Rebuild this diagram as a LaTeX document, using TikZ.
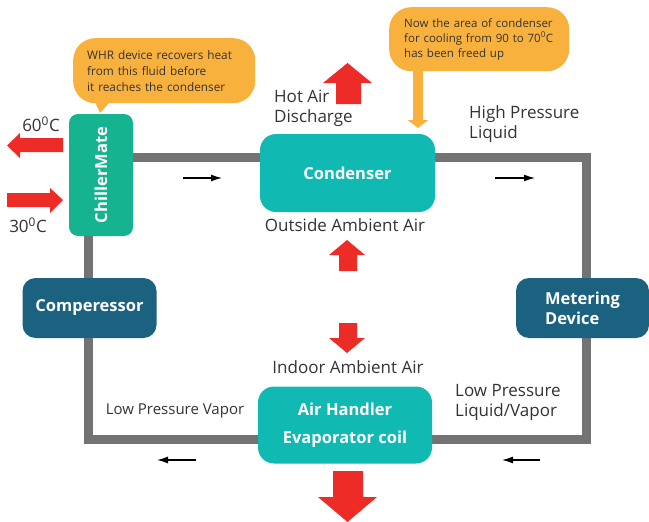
\documentclass[tikz,border=0pt]{standalone}
\usepackage{fontspec}
\setmainfont{Open Sans}
\usetikzlibrary{arrows.meta,positioning}
\definecolor{pipegray}{HTML}{737373}
\definecolor{chillgreen}{HTML}{15B38F}
\definecolor{condteal}{HTML}{10B9B2}
\definecolor{darkblue}{HTML}{1B6180}
\definecolor{bubbleorange}{HTML}{F9B13E}
\definecolor{heatred}{HTML}{EE2C27}
\definecolor{labelgray}{HTML}{333333}
\tikzset{
unitbox/.style={
  rounded corners=13pt,
  text=white,
  font=\bfseries\fontsize{16.5}{20}\selectfont,
  align=center,
  inner sep=0pt
  },
bubble/.style={
  fill=bubbleorange,
  rounded corners=22pt,
  text=labelgray,
  align=left,
  anchor=north west,
  inner ysep=0pt
  },
lbl/.style={font=\fontsize{17}{20}\selectfont, text=labelgray, align=left, inner sep=0pt},
flow/.style={-{Latex[length=11pt,width=7pt]}, line width=1.3pt},
heat/.style={fill=heatred},
pipe/.style={draw=pipegray, line width=9pt}
}

\begin{document}
\begin{tikzpicture}[x=1pt, y=-1pt]
  \useasboundingbox (0,0) rectangle (649,522);

  % refrigerant loop
  \coordinate (nw) at (88.5,157.5);
  \coordinate (ne) at (586,157.5);
  \coordinate (se) at (586,439);
  \coordinate (sw) at (88.5,439);
  \draw[pipe] (nw) -- (ne) -- (se) -- (sw) -- cycle;

  % units
  \node[unitbox, fill=chillgreen, rotate=90, minimum width=122pt, minimum height=64pt, rounded corners=9pt]
    (chiller) at (101,175) {ChillerMate};
  \node[unitbox, fill=condteal, minimum width=175pt, minimum height=78pt, rounded corners=16pt]
    (cond) at (347.5,173) {Condenser};
  \node[unitbox, fill=darkblue, minimum width=134pt, minimum height=60pt]
    (comp) at (89.5,308) {Comperessor};
  \node[unitbox, fill=darkblue, minimum width=133pt, minimum height=60pt, align=left]
    (meter) at (582.5,308) {Metering\\Device};
  \node[unitbox, fill=condteal, minimum width=174pt, minimum height=77pt, rounded corners=16pt]
    (evap) at (345,425) {Air Handler\\[8pt]Evaporator coil};

  % call-outs
  \node[bubble, minimum width=182pt, minimum height=65pt, inner xsep=14pt, text width=154pt,
    font=\fontsize{11.8}{16}\selectfont] (whr) at (73,38)
    {WHR device recovers heat\\from this fluid before\\it reaches the condenser};
  \fill[bubbleorange] (95,102) -- (100,113) -- (110,102) -- cycle;

  \node[bubble, minimum width=180pt, minimum height=64pt, inner xsep=15pt, text width=150pt,
    font=\fontsize{11.5}{15}\selectfont] (freed) at (389,7)
    {\mbox{Now the area of condenser}\\\mbox{for cooling from 90 to 70\textsuperscript{0}C}\\has been freed up};
  \coordinate (freedtip) at (418,128);
  \draw[bubbleorange, line width=10pt, -{Triangle[length=8pt,width=20pt]}]
    (freed.south -| freedtip) -- (freedtip);

  % labels
  \node[lbl] (t60) at (41,124) {60\textsuperscript{0}C};
  \node[lbl] (t30) at (28,225) {30\textsuperscript{0}C};
  \node[lbl, anchor=west] (hotair) at (274,108) {Hot Air\\Discharge};
  \node[lbl, anchor=west] (hpl) at (469,124.5) {High Pressure\\Liquid};
  \node[lbl] (outside) at (345,225) {Outside Ambient Air};
  \node[lbl] (indoor) at (348,367) {Indoor Ambient Air};
  \node[lbl, font=\fontsize{15}{18}\selectfont] (lpv) at (175,411) {Low Pressure Vapor};
  \node[lbl, anchor=west] (lplv) at (455,402) {Low Pressure\\Liquid/Vapor};

  % flow direction
  \draw[flow] (183,178) -- (222,178);
  \draw[flow] (495,178) -- (535,178);
  \draw[flow] (196,460) -- (157,460);
  \draw[flow] (540,460) -- (502,460);

  % heat arrows
  \fill[heat] (63,138) -- (20,138) -- (20,133) -- (7,145.5) -- (20,158) -- (20,152) -- (63,152) -- cycle;
  \fill[heat] (7,193) -- (50,193) -- (50,188) -- (63,200) -- (50,213) -- (50,207) -- (7,207) -- cycle;
  \fill[heat] (336,104) -- (336,83) -- (323,83) -- (347.5,63) -- (372,83) -- (361,83) -- (361,104) -- cycle;
  \fill[heat] (339,271) -- (339,255) -- (329,255) -- (347,240) -- (365,255) -- (357,255) -- (357,271) -- cycle;
  \fill[heat] (339,323) -- (339,338) -- (329,338) -- (347,353) -- (365,338) -- (357,338) -- (357,323) -- cycle;
  \fill[heat] (333,471) -- (333,497) -- (318,497) -- (347.5,522) -- (377,497) -- (363,497) -- (363,471) -- cycle;

\end{tikzpicture}
\end{document}
